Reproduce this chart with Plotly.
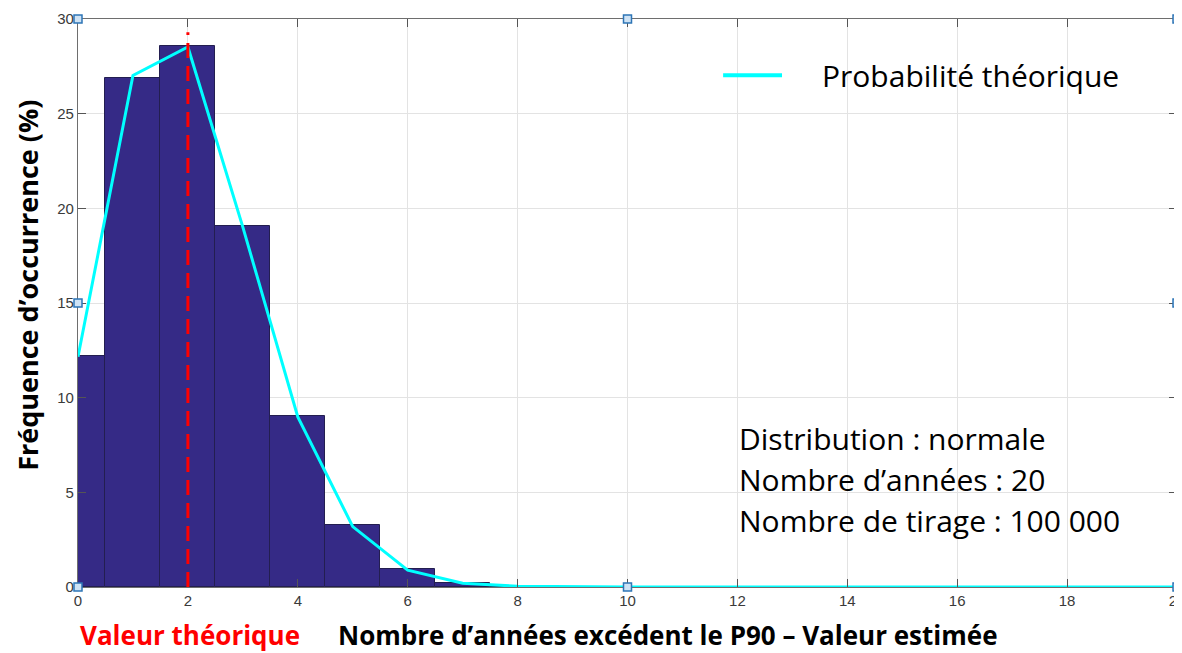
import plotly.graph_objects as go

# Histogram of simulated counts (%)
bin_centers = [0, 1, 2, 3, 4, 5, 6, 7, 8]
hist_pct = [12.2, 26.9, 28.6, 19.05, 9.03, 3.25, 0.95, 0.2, 0.04]

# Theoretical probability (%)
theo_x = list(range(0, 21))
theo_pct = [12.16, 27.02, 28.52, 19.01, 8.98, 3.19, 0.89, 0.2, 0.04, 0.006,
            0.0006, 0.0001, 0, 0, 0, 0, 0, 0, 0, 0, 0]

theoretical_value = 2
red_line_top = 29.3

x_ticks = [0, 2, 4, 6, 8, 10, 12, 14, 16, 18, 20]
y_ticks = [0, 5, 10, 15, 20, 25, 30]

legend_label = "Probabilité théorique"
info_lines = ["Distribution : normale", "Nombre d’années : 20", "Nombre de tirage : 100 000"]
x_title = "Nombre d’années excédent le P90 – Valeur estimée"
x_title_red = "Valeur théorique"
y_title = "Fréquence d’occurrence (%)"

fig = go.Figure()
fig.add_trace(go.Bar(
    x=bin_centers, y=hist_pct, width=1,
    marker=dict(color="rgb(53,42,134)", line=dict(color="rgb(35,30,80)", width=1)),
    showlegend=False, name="Simulation"))
fig.add_trace(go.Scatter(
    x=theo_x, y=theo_pct, mode="lines",
    line=dict(color="#00FFFF", width=3), name=legend_label, showlegend=False))

# red dashed theoretical value line
fig.add_shape(type="line", x0=theoretical_value, x1=theoretical_value, y0=0, y1=red_line_top,
              xref="x", yref="y", line=dict(color="#FF0000", width=3, dash="15px,8px"))

# manual legend
fig.add_shape(type="line", xref="paper", yref="paper", x0=0.587, x1=0.6406, y0=0.901, y1=0.901,
              line=dict(color="#00FFFF", width=4))
fig.add_annotation(xref="paper", yref="paper", x=0.675, y=0.901, text=legend_label,
                   showarrow=False, xanchor="left", yanchor="middle",
                   font=dict(family="Open Sans", size=30, color="black"))

for txt, yy in zip(info_lines, [0.2623, 0.1884, 0.1162]):
    fig.add_annotation(xref="paper", yref="paper", x=0.5996, y=yy, text=txt,
                       showarrow=False, xanchor="left", yanchor="middle",
                       font=dict(family="Open Sans", size=30, color="black"))

fig.add_annotation(xref="paper", yref="paper", x=0.537, y=-0.0845, text="<b>" + x_title + "</b>",
                   showarrow=False, xanchor="center", yanchor="middle",
                   font=dict(family="Open Sans", size=26, color="black"))
fig.add_annotation(xref="paper", yref="paper", x=0.1019, y=-0.0845, text="<b>" + x_title_red + "</b>",
                   showarrow=False, xanchor="center", yanchor="middle",
                   font=dict(family="Open Sans", size=26, color="#FF0000"))
fig.add_annotation(xref="paper", yref="paper", x=-0.0455, y=0.532, text="<b>" + y_title + "</b>",
                   showarrow=False, xanchor="center", yanchor="middle", textangle=-90,
                   font=dict(family="Open Sans", size=27, color="black"))

# selection handles
for hx, hy in [(0, 0), (0.5, 0), (1, 0), (0, 0.5), (1, 0.5), (0, 1), (0.5, 1), (1, 1)]:
    fig.add_shape(type="rect", xref="x domain", yref="y domain",
                  xsizemode="pixel", ysizemode="pixel", xanchor=hx, yanchor=hy,
                  x0=-4, x1=4, y0=-4, y1=4,
                  line=dict(color="#2e75b6", width=1.5), fillcolor="#cfe3f5")

axis_common = dict(showgrid=True, gridcolor="#e3e3e3", gridwidth=1,
                   showline=True, linecolor="#6e6e6e", linewidth=1.2, mirror="all",
                   ticks="inside", ticklen=8, tickcolor="#555", tickwidth=1,
                   zeroline=False, ticklabeloverflow="allow", automargin=False,
                   tickfont=dict(family="Liberation Sans", size=15, color="#3a3a3a"))

fig.update_xaxes(range=[0, 20], tickvals=x_ticks, **axis_common)
fig.update_yaxes(range=[0, 30], tickvals=y_ticks, **axis_common)

# page body has an 8px margin: figure sized/margined so the plot area lands where the reference has it
fig.update_layout(width=1174, height=645, margin=dict(l=70, r=5, t=11, b=66),
                  plot_bgcolor="white", paper_bgcolor="white", bargap=0)

fig.write_html("out.html")
